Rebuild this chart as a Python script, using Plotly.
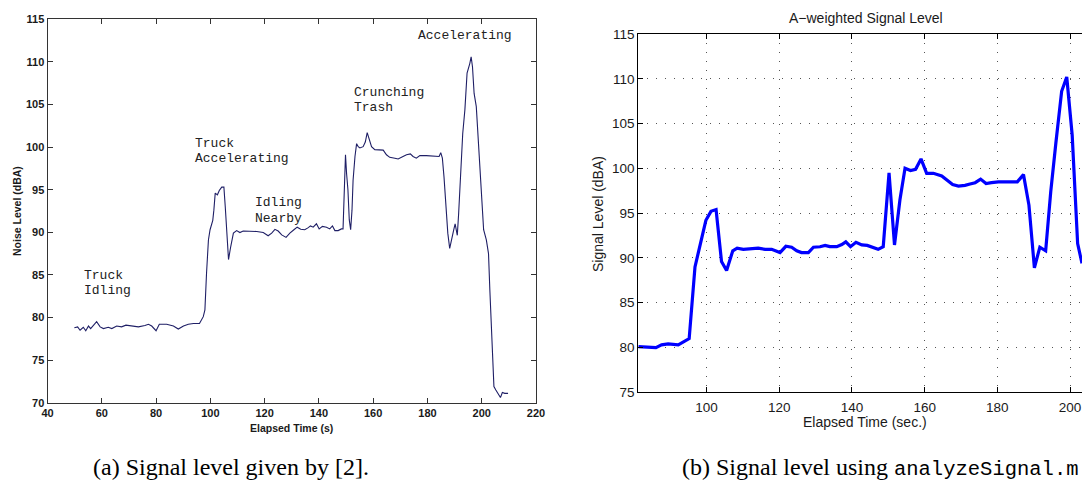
import plotly.graph_objects as go

# ---------------- data ----------------
left_time = [49.9, 51.1, 52.0, 53.2, 54.1, 55.1, 55.9, 56.9, 58.1, 59.4,
             60.6, 62.4, 63.7, 65.5, 67.3, 68.9, 71.0, 73.5, 75.9, 77.2,
             78.4, 80.0, 81.2, 83.9, 86.4, 88.2, 90.1, 91.9, 93.8, 96.0,
             97.4, 98.0, 98.6, 99.3, 99.9, 100.9, 101.3, 101.8, 102.6, 103.3,
             104.2, 105.0, 105.5, 106.0, 106.7, 107.5, 108.5, 109.7, 110.9, 112.1,
             114.6, 117.1, 119.5, 121.3, 122.6, 123.8, 125.0, 126.3, 127.9, 129.3,
             130.8, 132.0, 133.3, 134.8, 136.1, 136.9, 137.9, 139.1, 140.1, 141.3,
             142.8, 144.0, 145.0, 145.9, 147.1, 148.3, 148.9, 149.3, 149.8, 150.2,
             150.7, 151.2, 151.7, 152.2, 152.6, 153.3, 153.9, 154.5, 155.1, 156.3,
             157.1, 157.8, 158.5, 159.4, 160.6, 162.5, 163.7, 164.9, 166.1, 168.0,
             169.2, 171.0, 172.3, 173.7, 174.7, 175.9, 177.2, 179.6, 182.1, 184.3,
             184.9, 185.5, 186.1, 186.8, 187.5, 188.2, 189.0, 189.7, 190.2, 190.7,
             191.0, 191.5, 192.2, 193.0, 193.8, 194.6, 195.6, 196.1, 196.6, 197.2,
             198.0, 199.0, 200.0, 200.7, 201.7, 202.5, 203.0, 203.6, 204.0, 204.5,
             205.2, 206.0, 206.9, 207.6, 208.5, 209.7]
left_level = [78.8, 78.9, 78.5, 78.85, 78.45, 79.0, 78.7, 79.1, 79.5, 78.9,
              78.7, 78.85, 78.7, 79.0, 78.9, 79.1, 79.0, 78.9, 79.05, 79.2,
              79.0, 78.45, 79.2, 79.2, 79.0, 78.65, 79.0, 79.2, 79.3, 79.3,
              80.1, 80.9, 85.2, 89.1, 90.3, 91.4, 92.6, 94.6, 94.4, 94.9,
              95.3, 95.3, 93.0, 89.9, 86.8, 88.3, 89.9, 90.2, 89.97, 90.15,
              90.15, 90.1, 89.97, 89.6, 89.9, 90.35, 90.15, 89.7, 89.4, 89.9,
              90.3, 90.6, 90.35, 90.3, 90.55, 90.75, 90.6, 91.0, 90.4, 90.7,
              90.6, 90.4, 90.75, 90.2, 90.2, 90.4, 90.4, 95.4, 99.1, 96.9,
              95.0, 91.45, 90.3, 92.6, 96.1, 98.9, 100.4, 100.05, 99.9, 100.05,
              100.6, 101.7, 101.0, 100.05, 99.7, 99.7, 99.65, 99.1, 98.8, 98.7,
              98.6, 98.9, 99.1, 99.2, 98.9, 98.7, 99.0, 99.0, 98.95, 98.9,
              99.35, 98.7, 96.5, 93.0, 89.9, 88.1, 89.1, 90.3, 91.0, 90.3,
              89.65, 92.2, 96.5, 101.6, 104.4, 108.7, 109.8, 110.6, 109.4, 106.3,
              104.75, 99.7, 93.8, 90.3, 89.1, 87.5, 83.2, 78.1, 74.2, 71.9,
              71.5, 71.1, 70.6, 71.2, 71.1, 71.1]

right_time = [81.2, 83.9, 86.05, 87.6, 89.4, 92.2, 93.6, 95.2, 96.8, 98.2,
              99.8, 101.2, 102.6, 104.1, 105.5, 107.2, 108.4, 110.1, 112.4, 114.2,
              116.1, 117.9, 120.2, 121.8, 123.4, 124.8, 126.1, 128.0, 129.4, 131.2,
              132.6, 133.9, 135.8, 137.2, 138.3, 139.6, 141.1, 142.7, 144.2, 145.7,
              147.2, 148.6, 150.2, 151.7, 153.2, 154.6, 156.1, 157.5, 159.0, 160.55,
              162.4, 164.7, 166.05, 167.7, 169.3, 171.1, 172.5, 173.9, 175.4, 176.9,
              178.4, 180.3, 182.6, 185.5, 187.2, 188.7, 190.2, 191.7, 193.3, 194.7,
              196.1, 197.7, 199.1, 200.6, 202.1, 203.3]
right_level = [80.1, 80.0, 79.99, 80.3, 80.4, 80.3, 80.65, 81.0, 89.0, 91.45,
               94.2, 95.2, 95.4, 89.6, 88.6, 90.8, 91.1, 90.96, 91.05, 91.1,
               90.96, 90.96, 90.6, 91.3, 91.2, 90.8, 90.6, 90.6, 91.2, 91.25,
               91.4, 91.26, 91.26, 91.5, 91.8, 91.26, 91.75, 91.45, 91.4, 91.15,
               90.96, 91.26, 99.5, 91.45, 96.5, 100.0, 99.75, 99.9, 101.05, 99.45,
               99.45, 99.15, 98.7, 98.2, 98.03, 98.1, 98.25, 98.4, 98.8, 98.3,
               98.4, 98.5, 98.5, 98.5, 99.3, 95.9, 88.9, 91.2, 90.8, 97.4,
               102.8, 108.6, 110.2, 103.7, 91.6, 89.4]

left_xticks = [40, 60, 80, 100, 120, 140, 160, 180, 200, 220]
left_yticks = [70, 75, 80, 85, 90, 95, 100, 105, 110, 115]
right_xticks = [100, 120, 140, 160, 180, 200]
right_yticks = [75, 80, 85, 90, 95, 100, 105, 110, 115]

event_labels = ["Truck", "Idling", "Truck", "Accelerating", "Idling", "Nearby",
                "Crunching", "Trash", "Accelerating"]
event_x = [53.6, 53.6, 94.4, 94.4, 116.5, 116.5, 153.0, 153.0, 176.7]
event_y = [84.95, 83.15, 100.45, 98.7, 93.5, 91.6, 106.4, 104.6, 113.15]

# ---------------- figure ----------------
W, H = 1082, 484

fig = go.Figure()
fig.add_trace(go.Scatter(x=left_time, y=left_level, mode="lines",
                         line=dict(color="#1f1f66", width=1.1),
                         xaxis="x", yaxis="y", showlegend=False, hoverinfo="skip"))
fig.add_trace(go.Scatter(x=right_time, y=right_level, mode="lines",
                         line=dict(color="#0000ff", width=3.2),
                         xaxis="x2", yaxis="y2", showlegend=False, hoverinfo="skip"))

lfont = dict(family="Liberation Sans", size=11, color="#1a1a1a", weight="bold")
rfont = dict(family="Liberation Sans", size=13.5, color="#1a1a1a")

fig.update_layout(
    width=W, height=H,
    margin=dict(l=0, r=0, t=0, b=0),
    paper_bgcolor="white", plot_bgcolor="white",
    xaxis=dict(domain=[47.5 / W, 536 / W], range=[40, 220], anchor="y",
               tickmode="array", tickvals=left_xticks,
               ticks="inside", ticklen=5, tickcolor="#333", mirror="ticks",
               showline=True, linecolor="#333", linewidth=1,
               showgrid=False, zeroline=False, tickfont=lfont, automargin=False),
    yaxis=dict(domain=[1 - 402.7 / H, 1 - 19.3 / H], range=[70, 115], anchor="x",
               tickmode="array", tickvals=left_yticks,
               ticks="inside", ticklen=5, tickcolor="#333", mirror="ticks",
               showline=True, linecolor="#333", linewidth=1,
               showgrid=False, zeroline=False, tickfont=lfont, automargin=False),
    xaxis2=dict(domain=[638.3 / W, 1.0], range=[81.2, 203.3], anchor="y2",
                tickmode="array", tickvals=right_xticks,
                ticks="inside", ticklen=5, tickcolor="black", mirror="ticks",
                showline=True, linecolor="black", linewidth=1.3,
                showgrid=True, gridcolor="#555", gridwidth=1, griddash="1px,8px",
                zeroline=False, tickfont=rfont, automargin=False, ticklabelstandoff=2),
    yaxis2=dict(domain=[1 - 392.3 / H, 1 - 34 / H], range=[75, 115], anchor="x2",
                tickmode="array", tickvals=right_yticks,
                ticks="inside", ticklen=5, tickcolor="black", mirror=False,
                showline=True, linecolor="black", linewidth=1.3,
                showgrid=True, gridcolor="#555", gridwidth=1, griddash="1px,8px",
                zeroline=False, tickfont=rfont, automargin=False),
)

ann = []
for t, xv, yv in zip(event_labels, event_x, event_y):
    ann.append(dict(text=t, x=xv, y=yv, xref="x", yref="y", xanchor="left",
                    yanchor="middle", showarrow=False, xshift=-2,
                    font=dict(family="Liberation Mono", size=13, color="#222")))

def P(x, y):
    return x / W, 1 - y / H

x, y = P(17, 211)
ann.append(dict(text="Noise Level (dBA)", x=x, y=y, xref="paper", yref="paper",
                textangle=-90, showarrow=False, xanchor="center", yanchor="middle",
                font=dict(family="Liberation Sans", size=10.5, color="#1a1a1a", weight="bold")))
x, y = P(291, 428)
ann.append(dict(text="Elapsed Time (s)", x=x, y=y, xref="paper", yref="paper",
                showarrow=False, xanchor="center", yanchor="middle",
                font=dict(family="Liberation Sans", size=10.5, color="#1a1a1a", weight="bold")))
x, y = P(866, 18)
ann.append(dict(text="A\u2212weighted Signal Level", x=x, y=y, xref="paper", yref="paper",
                showarrow=False, xanchor="center", yanchor="middle",
                font=dict(family="Liberation Sans", size=14, color="#1a1a1a")))
x, y = P(598, 214)
ann.append(dict(text="Signal Level (dBA)", x=x, y=y, xref="paper", yref="paper",
                textangle=-90, showarrow=False, xanchor="center", yanchor="middle",
                font=dict(family="Liberation Sans", size=14, color="#1a1a1a")))
x, y = P(865, 422)
ann.append(dict(text="Elapsed Time (sec.)", x=x, y=y, xref="paper", yref="paper",
                showarrow=False, xanchor="center", yanchor="middle",
                font=dict(family="Liberation Sans", size=14, color="#1a1a1a")))
x, y = P(91, 467)
ann.append(dict(text="(a) Signal level given by [2].", x=x, y=y, xref="paper", yref="paper",
                showarrow=False, xanchor="left", yanchor="middle",
                font=dict(family="Liberation Serif", size=24, color="black")))
x, y = P(1081, 467)
ann.append(dict(text="(b) Signal level using <span style='font-family:Liberation Mono;font-size:20.5px'>analyzeSignal.m</span>",
                x=x, y=y, xref="paper", yref="paper",
                showarrow=False, xanchor="right", yanchor="middle",
                font=dict(family="Liberation Serif", size=24, color="black")))
fig.update_layout(annotations=ann)

fig.write_html("out.html",
               config={"displayModeBar": False},
               post_script="document.body.style.margin='0';document.body.style.overflow='hidden';")
